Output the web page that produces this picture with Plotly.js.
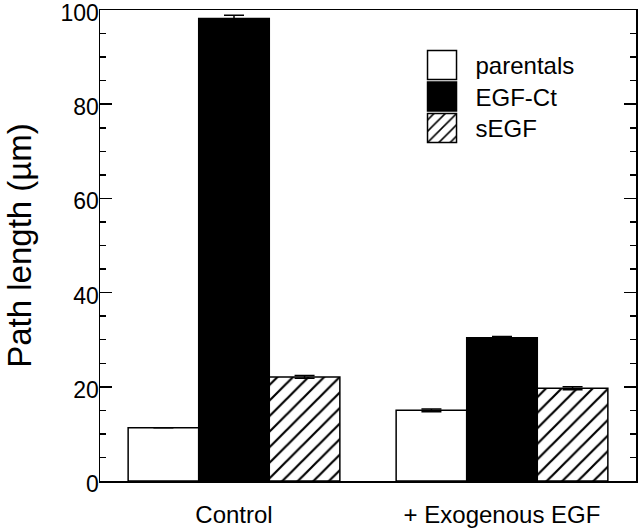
<!DOCTYPE html>
<html>
<head>
<meta charset="utf-8">
<script src="https://cdn.plot.ly/plotly-3.0.1.min.js"></script>
<style>html,body{margin:0;padding:0;background:#fff;}#chart{width:640px;height:529px;}</style>
</head>
<body>
<div id="chart"></div>
<script>
const categories = ["Control", "+ Exogenous EGF"];
const seriesNames = ["parentals", "EGF-Ct", "sEGF"];
const parentals = [11.3, 15.0];
const parentalsErr = [0.0, 0.3];
const egfCt = [98.2, 30.4];
const egfCtErr = [0.7, 0.3];
const sEGF = [22.1, 19.7];
const sEGFErr = [0.3, 0.3];

const font = "Liberation Sans, Arial, Helvetica, sans-serif";
const errStyle = (arr) => ({type: 'data', array: arr, visible: true, color: 'black', thickness: 1.5, width: 10});

const traces = [
  {type: 'bar', name: seriesNames[0], x: categories, y: parentals, error_y: errStyle(parentalsErr),
   marker: {color: 'white', line: {color: 'black', width: 1.5}}},
  {type: 'bar', name: seriesNames[1], x: categories, y: egfCt, error_y: errStyle(egfCtErr),
   marker: {color: 'black', line: {color: 'black', width: 1.5}}},
  {type: 'bar', name: seriesNames[2], x: categories, y: sEGF, error_y: errStyle(sEGFErr),
   marker: {color: 'white', line: {color: 'black', width: 1.5},
            pattern: {shape: '/', bgcolor: 'white', fgcolor: 'black', size: 11, solidity: 0.2}}}
];

const layout = {
  width: 640, height: 529,
  margin: {l: 100, r: 4, t: 10, b: 48},
  paper_bgcolor: 'white', plot_bgcolor: 'white',
  font: {family: font, color: 'black'},
  barmode: 'group', bargap: 0.21, bargroupgap: 0,
  showlegend: true,
  legend: {x: 0.57, y: 0.93, xanchor: 'left', yanchor: 'top', bgcolor: 'rgba(0,0,0,0)',
           font: {family: font, size: 24, color: 'black'}, itemwidth: 60, traceorder: 'normal'},
  xaxis: {type: 'category', range: [-0.5, 1.5], showline: true, linecolor: 'black', linewidth: 1.5,
          mirror: true, ticks: '', showgrid: false, zeroline: false, ticklabelstandoff: 12,
          tickfont: {family: font, size: 24, color: 'black'}},
  yaxis: {range: [0, 100], dtick: 20, tick0: 0, showline: true, linecolor: 'black', linewidth: 1.5,
          mirror: 'ticks', ticks: 'inside', ticklen: 12, tickwidth: 1.5, tickcolor: 'black',
          showgrid: false, zeroline: false, ticklabeloverflow: 'allow', ticklabelstandoff: -5,
          tickfont: {family: font, size: 23, color: 'black'},
          minor: {dtick: 5, ticks: 'inside', ticklen: 6, tickwidth: 1.5, tickcolor: 'black', showgrid: false},
          title: {text: 'Path length (µm)', font: {family: font, size: 33, color: 'black'}, standoff: 19}}
};

Plotly.newPlot('chart', traces, layout, {displayModeBar: false, staticPlot: true}).then(function(gd) {
  // nudge only the y tick label groups slightly lower, as in the reference
  gd.querySelectorAll('g.ytick').forEach(function(g) {
    const t = g.getAttribute('transform') || '';
    g.setAttribute('transform', 'translate(0,3) ' + t);
  });
  const items = gd.querySelectorAll('.legend .traces');
  items.forEach(function(tr) {
    const text = tr.querySelector('text.legendtext');
    const tx = parseFloat(text.getAttribute('x')) || 40;
    tr.querySelectorAll('.legendpoints path').forEach(function(p) {
      p.setAttribute('d', 'M14.5,14.5H-14.5V-14.5H14.5Z');
      p.setAttribute('transform', 'translate(' + (tx - 33.5) + ',0)');
    });
  });
  if (items.length) {
    const m = /translate\(\s*([-\d.]+)[ ,]+([-\d.]+)/.exec(items[0].getAttribute('transform') || '');
    if (m) {
      const x0 = parseFloat(m[1]), y0 = parseFloat(m[2]);
      items.forEach(function(tr, i) {
        tr.setAttribute('transform', 'translate(' + x0 + ',' + (y0 + i * 31.5) + ')');
      });
    }
  }
});
</script>
</body>
</html>
